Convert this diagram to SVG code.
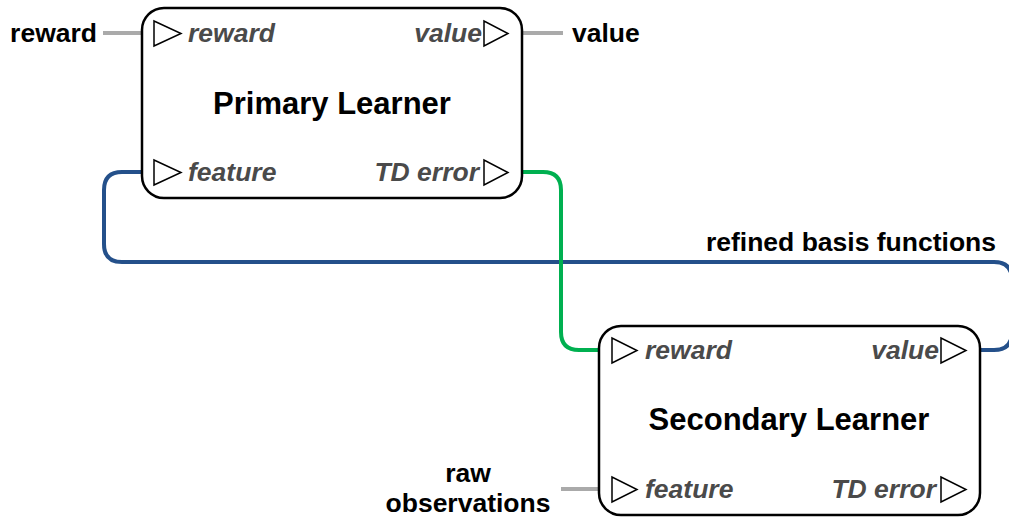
<svg xmlns="http://www.w3.org/2000/svg" width="1009" height="520" viewBox="0 0 1009 520">
<style>
.box{fill:#fff;stroke:#000;stroke-width:2.5}
.port{fill:#fff;stroke:#000;stroke-width:1.5;stroke-linejoin:miter}
.title{font-family:"Liberation Sans",Arial,sans-serif;font-weight:bold;font-size:31px;fill:#000}
.pl{font-family:"Liberation Sans",Arial,sans-serif;font-weight:bold;font-style:italic;font-size:26.5px;fill:#4a4a4a}
.lbl{font-family:"Liberation Sans",Arial,sans-serif;font-weight:bold;font-size:26.5px;fill:#000}
.gray{fill:none;stroke:#aaaaaa;stroke-width:4}
.blue{fill:none;stroke:#24508a;stroke-width:4}
.green{fill:none;stroke:#00b050;stroke-width:4}
</style>
<g id="connectors">
<path class="gray" d="M103 33 H156"/>
<path class="gray" d="M506 33 H563"/>
<path class="gray" d="M561 489 H614"/>
<path class="blue" d="M963 350 H994 Q1012 350 1012 332 V280 Q1012 262 994 262 H122 Q104 262 104 244 V190 Q104 172 122 172 H156"/>
<path class="green" d="M506 172 H543 Q561 172 561 190 V332 Q561 350 579 350 H614"/>
</g>
<g id="primary">
<rect class="box" x="142" y="8" width="380" height="190" rx="22"/>
<text class="title" x="332" y="114" text-anchor="middle">Primary Learner</text>
<polygon class="port" points="154,21 154,46 181,33.5"/>
<text class="pl" x="188" y="42">reward</text>
<polygon class="port" points="154,160 154,185 181,172.5"/>
<text class="pl" x="188" y="181">feature</text>
<polygon class="port" points="484,21 484,46 508,33.5"/>
<text class="pl" x="482" y="42" text-anchor="end">value</text>
<polygon class="port" points="484,160 484,185 508,172.5"/>
<text class="pl" x="479" y="181" text-anchor="end">TD error</text>
</g>
<g id="secondary">
<rect class="box" x="599" y="326" width="381" height="189" rx="22"/>
<text class="title" x="789" y="430" text-anchor="middle">Secondary Learner</text>
<polygon class="port" points="612,338 612,363 637,350.5"/>
<text class="pl" x="645" y="359">reward</text>
<polygon class="port" points="612,477 612,502 637,489.5"/>
<text class="pl" x="645" y="498">feature</text>
<polygon class="port" points="941,338 941,363 966,350.5"/>
<text class="pl" x="939" y="359" text-anchor="end">value</text>
<polygon class="port" points="941,477 941,502 966,489.5"/>
<text class="pl" x="936" y="498" text-anchor="end">TD error</text>
</g>
<g id="labels">
<text class="lbl" x="97" y="42" text-anchor="end">reward</text>
<text class="lbl" x="572" y="42">value</text>
<text class="lbl" x="996" y="251" text-anchor="end">refined basis functions</text>
<text class="lbl" x="468" y="482" text-anchor="middle">raw</text>
<text class="lbl" x="468" y="512" text-anchor="middle">observations</text>
</g>
</svg>
